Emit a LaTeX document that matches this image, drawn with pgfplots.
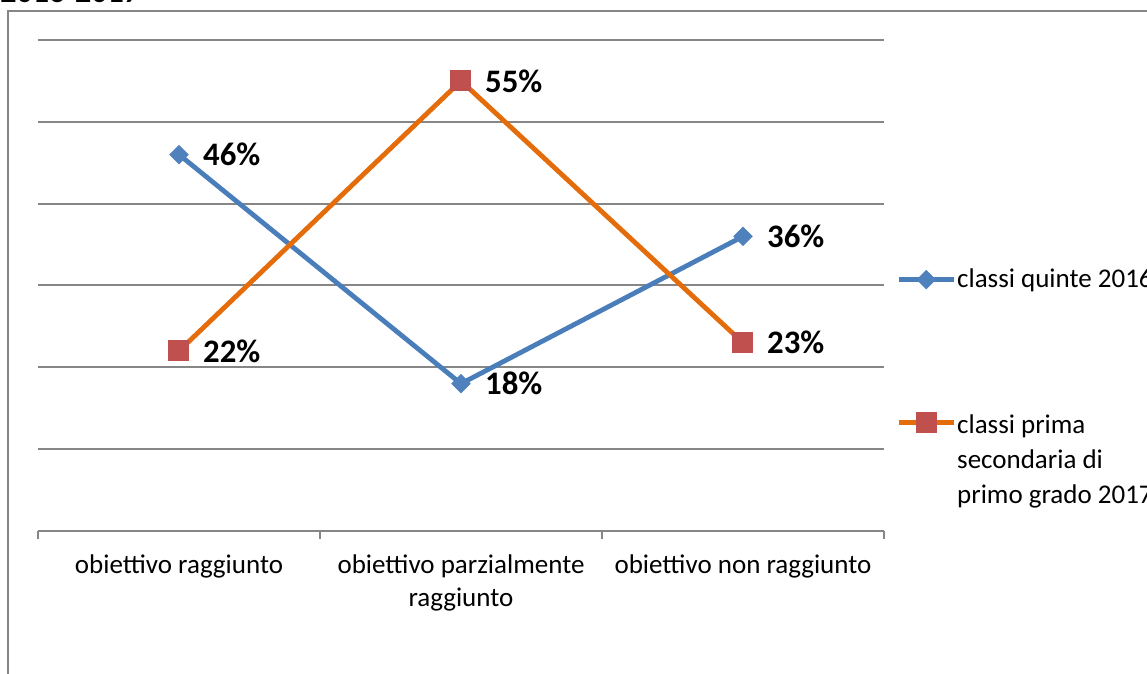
\documentclass[border=0pt]{standalone}
\usepackage{pgfplots}
\pgfplotsset{compat=1.18}
\usepackage{fontspec}
\setmainfont{Carlito}
\definecolor{gridgray}{HTML}{868686}
\definecolor{xlblue}{HTML}{4A7EBB}
\definecolor{xlbluemark}{HTML}{4F81BD}
\definecolor{xlorange}{HTML}{E46C0A}
\definecolor{xlred}{HTML}{C0504D}
\begin{document}
\begin{tikzpicture}
\useasboundingbox (0pt,0pt) rectangle (573.5pt,337pt);
% outer chart frame (partly visible)
\draw[gridgray, line width=1pt] (4pt,-5pt) -- (4pt,331.5pt) -- (600pt,331.5pt);
% title (cut off at top)
\node[anchor=base west, inner sep=0pt, font=\bfseries\fontsize{16}{19}\selectfont] at (0pt,335.5pt) {2016-2017};
\begin{axis}[
  at={(19pt,71.5pt)}, anchor=south west,
  scale only axis, width=423pt, height=245.5pt,
  xmin=-0.5, xmax=2.5, ymin=0, ymax=0.6,
  axis lines*=left,
  y axis line style={draw=none},
  x axis line style={gridgray, line width=1pt},
  xtick={0,1,2},
  xticklabels={obiettivo raggiunto, obiettivo parzialmente\\raggiunto, obiettivo non raggiunto},
  xticklabel style={align=center, anchor=north, yshift=-4pt, font=\fontsize{13.5}{16.5}\selectfont},
  major x tick style={draw=none},
  minor xtick={-0.5,0.5,1.5,2.5},
  minor x tick style={gridgray, line width=1pt},
  minor tick length=4pt,
  tick align=outside,
  ytick={0.1,0.2,0.3,0.4,0.5,0.6},
  yticklabels={},
  major y tick style={draw=none},
  ymajorgrids,
  y grid style={gridgray, line width=1pt},
  clip=false,
  nodes near coords,
  point meta=explicit symbolic,
  every node near coord/.append style={anchor=west, xshift=8.5pt, text=black, font=\bfseries\fontsize{16.4}{19}\selectfont},
  legend style={draw=none, fill=none, at={(rel axis cs:1,0.545)}, anchor=north west, xshift=3pt,
    font=\fontsize{13.5}{17.5}\selectfont, row sep=58pt, nodes={inner sep=0.5pt}},
  legend cell align=left,
  legend image code/.code={\draw[mark repeat=2,mark phase=2,#1] plot coordinates {(0pt,0pt)(13.75pt,0pt)(27.5pt,0pt)};},
]
\addplot[xlblue, line width=2.4pt, mark=square*, mark size=3.2pt,
  mark options={rotate=45, fill=xlbluemark, draw=xlbluemark, line width=0.5pt}]
  coordinates {(0,0.46) [46\%] (1,0.18) [18\%] (2,0.36) [36\%]};
\addlegendentry{classi quinte 2016}
\addplot[xlorange, line width=2.4pt, mark=square*, mark size=5pt,
  mark options={fill=xlred, draw=xlred, line width=0.5pt}]
  coordinates {(0,0.22) [22\%] (1,0.55) [55\%] (2,0.23) [23\%]};
\addlegendentry{\begin{tabular}[t]{@{}l@{}}classi prima\\secondaria di\\primo grado 2017\end{tabular}}
\end{axis}
\end{tikzpicture}
\end{document}
